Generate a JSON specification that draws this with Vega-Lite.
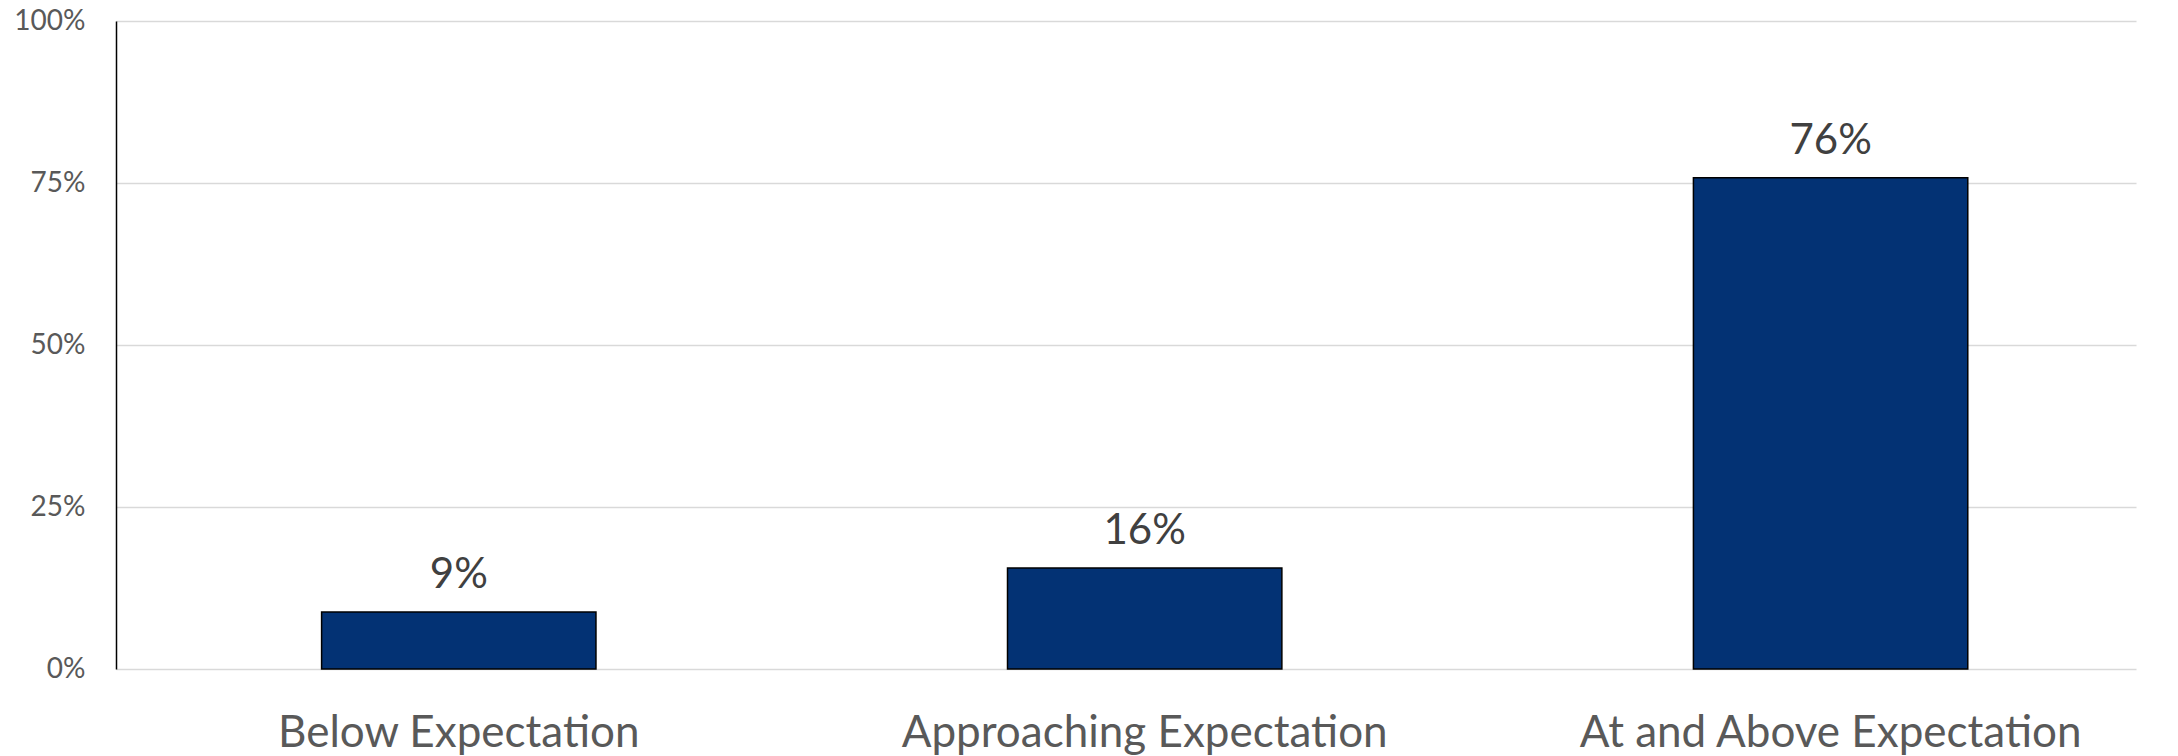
{
  "$schema": "https://vega.github.io/schema/vega-lite/v6.json",
  "autosize": "none",
  "width": 2020,
  "height": 648,
  "padding": {"left": 116, "top": 21, "right": 42, "bottom": 87},
  "background": "white",
  "config": {"view": {"stroke": null}, "font": "Lato"},
  "data": {"values": [
    {"category": "Below Expectation", "value": 0.088, "label": "9%"},
    {"category": "Approaching Expectation", "value": 0.156, "label": "16%"},
    {"category": "At and Above Expectation", "value": 0.758, "label": "76%"}
  ]},
  "encoding": {
    "x": {"field": "category", "type": "nominal", "sort": null,
      "scale": {"paddingInner": 0.6, "paddingOuter": 0.2725, "align": 0.55},
      "axis": {"title": null, "labelAngle": 0, "domain": false, "ticks": false, "labelLimit": 0,
        "labelFont": "Lato", "labelFontSize": 44, "labelColor": "#595959", "labelPadding": 42}},
    "y": {"field": "value", "type": "quantitative",
      "scale": {"domain": [0, 1], "nice": false},
      "axis": {"title": null, "values": [0, 0.25, 0.5, 0.75, 1], "format": ".0%",
        "domain": true, "domainColor": "#000000", "domainWidth": 1.5, "ticks": false,
        "grid": true, "gridColor": "#d9d9d9", "gridWidth": 1.5,
        "labelFont": "Lato", "labelFontSize": 28, "labelColor": "#595959", "labelPadding": 31}}
  },
  "layer": [
    {"mark": {"type": "bar", "color": "#033274", "stroke": "#000000", "strokeWidth": 1.5}},
    {"mark": {"type": "text", "baseline": "alphabetic", "dy": -24, "fontSize": 42, "color": "#404040", "font": "Lato"},
     "encoding": {"text": {"field": "label"}}}
  ]
}
